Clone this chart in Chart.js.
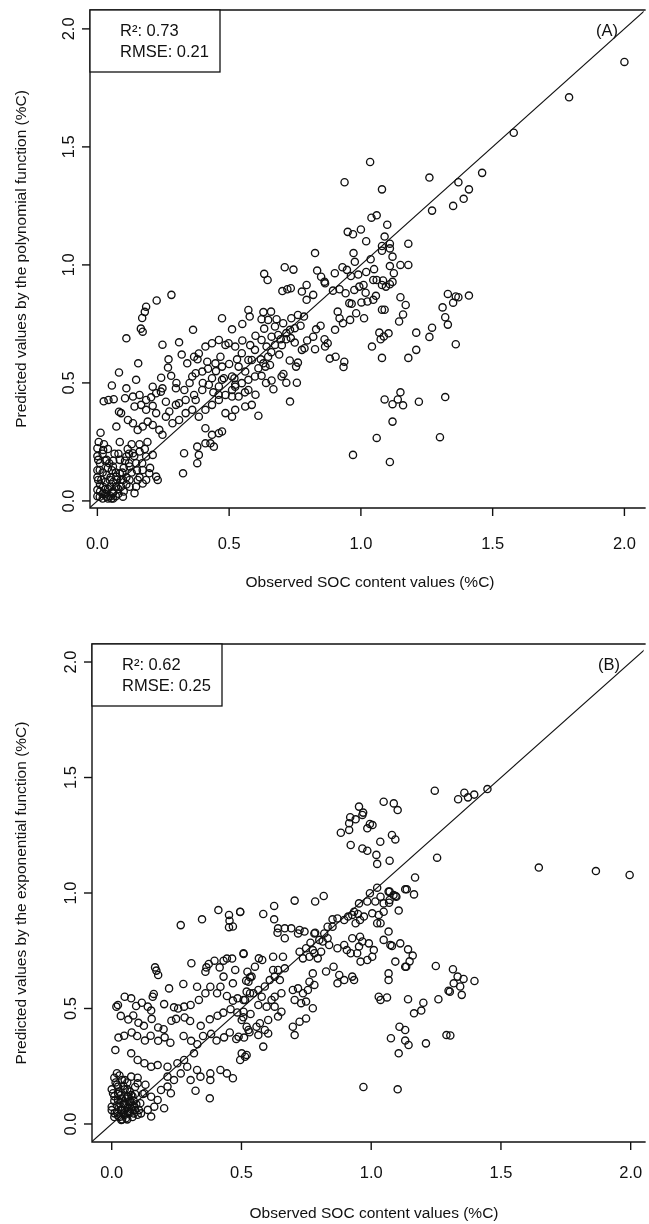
<!DOCTYPE html>
<html>
<head>
<meta charset="utf-8">
<script src="https://cdn.jsdelivr.net/npm/chart.js@4.4.1/dist/chart.umd.min.js"></script>
<style>
  body { margin: 0; background: #fff; width: 649px; height: 1224px; overflow: hidden; }
  .panel { position: absolute; left: 0; width: 649px; height: 612px; }
</style>
</head>
<body>
<div class="panel" style="top:0"><canvas id="chartA" width="649" height="612"></canvas></div>
<div class="panel" style="top:612px"><canvas id="chartB" width="649" height="612"></canvas></div>
<script>
// axis ticks shared by both panels
const tickValues = [0, 0.5, 1, 1.5, 2];
const tickLabels = ['0.0', '0.5', '1.0', '1.5', '2.0'];
// 1:1 reference line (observed = predicted)
const oneToOne = [-0.2, 2.3];

const xTitle = 'Observed SOC content values (%C)';
const yTitleA = 'Predicted values by the polynomial function (%C)';
const yTitleB = 'Predicted values by the exponential function (%C)';
const statsA = ['R²: 0.73', 'RMSE: 0.21'];
const statsB = ['R²: 0.62', 'RMSE: 0.25'];

// (A) observed vs predicted by the polynomial function
const pointsA = [
  [2.0,1.86],[1.79,1.71],[1.58,1.56],[1.035,1.436],[0.938,1.35],
  [1.26,1.37],[1.46,1.39],[1.37,1.35],[1.41,1.32],[1.39,1.28],[1.35,1.25],[1.27,1.23],[1.08,1.32],
  [1.10,1.17],[1.09,1.12],[1.18,1.09],[1.08,1.08],[1.08,1.06],[1.11,1.09],[1.11,1.07],[1.12,1.035],
  [1.11,0.995],[1.15,1.0],[1.18,1.0],[1.06,0.936],[1.08,0.915],[1.095,0.908],[1.11,0.918],[1.12,0.928],
  [1.15,0.863],[1.17,0.83],[1.16,0.79],[1.145,0.76],[1.08,0.81],[1.09,0.81],[1.33,0.877],[1.36,0.866],
  [1.37,0.863],[1.35,0.84],[1.31,0.82],[1.32,0.778],[1.33,0.747],[1.41,0.87],[1.07,0.713],[1.105,0.71],
  [1.21,0.713],[1.27,0.734],[1.26,0.695],[1.36,0.664],[1.21,0.64],[1.18,0.606],[1.08,0.606],
  [1.09,0.43],[1.12,0.41],[1.14,0.43],[1.15,0.46],[1.16,0.405],[1.22,0.42],[1.32,0.44],[1.12,0.336],
  [1.30,0.27],[1.06,0.267],[1.11,0.165],[0.97,0.195],
  [1.06,1.21],[1.04,1.2],[1.0,1.15],[0.97,1.13],[1.02,1.1],[0.95,1.14],
  [0.826,1.05],[0.711,0.99],[0.744,0.98],[0.633,0.962],[0.646,0.936],[0.834,0.976],[0.849,0.95],
  [0.862,0.929],[0.864,0.922],[0.702,0.889],[0.721,0.897],[0.734,0.901],[0.776,0.887],[0.794,0.915],
  [0.819,0.873],[0.794,0.852],[0.894,0.891],[0.919,0.897],[0.942,0.88],
  [0.901,0.965],[0.93,0.99],[0.947,0.979],[0.962,0.953],[0.977,1.013],[0.972,1.05],[0.99,0.959],
  [1.02,0.97],[1.05,0.982],[1.037,1.024],[1.125,0.965],[1.047,0.936],[1.084,0.934],[0.975,0.894],
  [0.994,0.908],[1.01,0.915],[1.018,0.882],
  [0.912,0.802],[0.919,0.774],[0.932,0.753],[0.902,0.725],[0.956,0.838],[0.965,0.835],[0.982,0.795],
  [0.959,0.767],[1.012,0.774],[1.002,0.841],[1.025,0.845],[1.047,0.852],[1.057,0.869],[1.087,0.697],
  [1.075,0.685],[1.042,0.654],
  [0.83,0.727],[0.847,0.742],[0.819,0.696],[0.862,0.685],[0.874,0.668],[0.864,0.654],[0.826,0.643],
  [0.882,0.603],[0.904,0.611],[0.937,0.59],[0.934,0.567],
  [0.731,0.725],[0.749,0.732],[0.771,0.742],[0.734,0.69],[0.749,0.671],[0.776,0.64],[0.786,0.647],
  [0.796,0.68],[0.761,0.586],[0.754,0.569],[0.73,0.595],[0.706,0.538],[0.699,0.527],[0.717,0.501],
  [0.757,0.501],[0.661,0.51],[0.668,0.473],[0.731,0.421],
  [0.573,0.809],[0.578,0.781],[0.511,0.727],[0.623,0.77],[0.633,0.73],[0.648,0.767],[0.659,0.802],
  [0.674,0.739],[0.686,0.703],[0.705,0.753],[0.717,0.711],[0.736,0.774],[0.761,0.788],[0.784,0.781],
  [0.623,0.682],[0.642,0.654],[0.661,0.696],[0.674,0.661],[0.696,0.685],[0.717,0.685],[0.648,0.611],
  [0.63,0.583],[0.598,0.64],[0.573,0.597],[0.548,0.626],[0.523,0.654],[0.498,0.668],[0.536,0.569],
  [0.561,0.548],[0.586,0.597],[0.611,0.562],[0.638,0.569],[0.655,0.576],[0.573,0.513],[0.548,0.499],
  [0.523,0.484],[0.511,0.442],[0.536,0.442],[0.561,0.4],[0.586,0.407],[0.611,0.361],[0.523,0.386],
  [0.511,0.357],[0.573,0.47],[0.598,0.527],[0.623,0.53],
  [0.055,0.489],[0.11,0.477],[0.147,0.513],[0.024,0.422],[0.042,0.428],[0.062,0.431],[0.105,0.435],
  [0.135,0.442],[0.16,0.449],[0.185,0.428],[0.204,0.439],[0.223,0.456],[0.241,0.463],[0.082,0.378],
  [0.09,0.372],[0.141,0.4],[0.166,0.407],[0.185,0.386],[0.21,0.403],[0.223,0.372],[0.012,0.289],
  [0.072,0.315],[0.116,0.343],[0.135,0.329],[0.153,0.301],[0.172,0.315],[0.191,0.336],[0.21,0.322],
  [0.235,0.301],[0.247,0.28],
  [0.26,0.357],[0.285,0.329],[0.31,0.343],[0.335,0.372],[0.36,0.386],[0.385,0.357],[0.41,0.386],
  [0.435,0.407],[0.461,0.428],[0.486,0.449],[0.511,0.47],[0.523,0.492],[0.461,0.485],[0.423,0.492],
  [0.398,0.47],[0.367,0.449],[0.335,0.428],[0.298,0.407],[0.273,0.379],[0.31,0.414],[0.373,0.428],
  [0.486,0.372],
  [0.41,0.308],[0.435,0.28],[0.461,0.287],[0.473,0.294],[0.41,0.244],[0.442,0.23],[0.379,0.23],
  [0.385,0.195],[0.329,0.202],[0.379,0.16],[0.325,0.117],[0.429,0.244],[0.141,0.033],
  [0.0,0.223],[0.022,0.216],[0.003,0.174],[0.009,0.131],[0.003,0.089],[0.0,0.047],[0.009,0.018],
  [0.035,0.018],[0.059,0.032],[0.022,0.06],[0.047,0.089],[0.072,0.06],[0.085,0.117],[0.059,0.146],
  [0.035,0.174],[0.085,0.174],[0.11,0.188],[0.135,0.202],[0.16,0.209],[0.185,0.188],[0.21,0.195],
  [0.122,0.146],[0.147,0.16],[0.172,0.131],[0.197,0.117],[0.223,0.103],[0.229,0.089],[0.185,0.089],
  [0.153,0.089],[0.122,0.089],[0.097,0.089],[0.072,0.103],[0.053,0.01],[0.097,0.018],[0.122,0.06],
  [0.147,0.06],[0.172,0.074],
  [0.281,0.873],[0.225,0.849],[0.185,0.823],[0.18,0.801],[0.17,0.775],[0.165,0.73],[0.172,0.717],
  [0.11,0.689],[0.247,0.662],[0.31,0.672],[0.363,0.725],[0.473,0.774],[0.155,0.583],[0.082,0.544],
  [0.242,0.522],[0.268,0.565],
  [0.341,0.583],[0.367,0.611],[0.385,0.625],[0.41,0.654],[0.435,0.668],[0.461,0.682],[0.486,0.661],
  [0.467,0.611],[0.448,0.583],[0.417,0.59],[0.473,0.569],[0.373,0.541],[0.398,0.548],[0.36,0.527],
  [0.435,0.52],[0.473,0.513],[0.511,0.527],[0.298,0.477],[0.247,0.477],[0.21,0.484],
  [0.0,0.02],[0.01,0.04],[0.02,0.01],[0.03,0.03],[0.04,0.05],[0.05,0.02],[0.06,0.04],[0.07,0.06],
  [0.08,0.03],[0.03,0.08],[0.05,0.1],[0.07,0.12],[0.09,0.09],[0.1,0.14],[0.02,0.12],[0.01,0.16],
  [0.0,0.19],[0.0,0.1],[0.01,0.07],[0.04,0.14],[0.06,0.17],[0.08,0.2],[0.11,0.1],[0.12,0.16],
  [0.13,0.12],[0.02,0.2],[0.0,0.13],[0.005,0.25],[0.04,0.22],[0.06,0.01],[0.09,0.06],[0.1,0.04],
  [0.11,0.07],[0.03,0.17],[0.15,0.13],[0.14,0.19],[0.17,0.16],[0.16,0.1],[0.12,0.2],[0.18,0.22],
  [0.2,0.14],[0.19,0.25],
  [0.02,0.03],[0.04,0.01],[0.05,0.06],[0.07,0.02],[0.03,0.05],[0.06,0.08],[0.08,0.05],[0.015,0.09],
  [0.035,0.11],[0.055,0.13],[0.075,0.09],[0.095,0.12],[0.045,0.16],[0.065,0.2],[0.025,0.24],
  [0.105,0.17],[0.115,0.22],[0.085,0.25],[0.13,0.24],[0.16,0.24],
  [0.3,0.5],[0.33,0.47],[0.28,0.53],[0.35,0.5],[0.4,0.5],[0.42,0.56],[0.45,0.55],[0.38,0.6],
  [0.32,0.62],[0.27,0.6],[0.5,0.58],[0.53,0.6],[0.55,0.68],[0.58,0.66],[0.6,0.7],[0.62,0.6],
  [0.66,0.63],[0.69,0.62],[0.7,0.66],[0.68,0.77],[0.63,0.8],[0.55,0.75],[0.52,0.52],[0.56,0.46],
  [0.6,0.45],[0.64,0.5],[0.48,0.52],[0.46,0.45],[0.44,0.46],[0.26,0.42]
];

// (B) observed vs predicted by the exponential function
const pointsB = [
  [0.411,0.926],[0.348,0.886],[0.266,0.861],[0.452,0.905],[0.454,0.88],[0.452,0.852],[0.467,0.855],
  [0.495,0.918],[0.167,0.678],[0.172,0.664],[0.179,0.645],
  [0.307,0.696],[0.365,0.678],[0.374,0.693],[0.396,0.707],[0.416,0.678],[0.431,0.707],[0.444,0.716],
  [0.464,0.716],[0.508,0.736],[0.476,0.667],[0.523,0.659],[0.533,0.635],[0.518,0.62],[0.431,0.638],
  [0.467,0.609],[0.361,0.659],[0.329,0.594],[0.276,0.606],[0.221,0.587],[0.162,0.563],[0.158,0.551],
  [0.075,0.544],[0.05,0.551],[0.024,0.515],[0.018,0.508],[0.094,0.511],[0.116,0.525],[0.139,0.508],
  [0.152,0.491],[0.202,0.519],[0.24,0.505],[0.256,0.5],[0.279,0.508],[0.304,0.515],[0.336,0.537],
  [0.361,0.566],[0.38,0.594],[0.406,0.566],[0.419,0.594],[0.444,0.554],[0.467,0.534],[0.485,0.544],
  [0.508,0.537],[0.533,0.566],
  [0.035,0.468],[0.064,0.452],[0.083,0.47],[0.103,0.438],[0.124,0.425],[0.154,0.455],[0.179,0.418],
  [0.2,0.41],[0.23,0.447],[0.248,0.455],[0.281,0.461],[0.302,0.446],[0.343,0.425],[0.378,0.453],
  [0.408,0.469],[0.43,0.482],[0.458,0.497],[0.484,0.483],[0.507,0.462],[0.535,0.476],
  [0.026,0.374],[0.014,0.32],[0.048,0.382],[0.077,0.396],[0.098,0.381],[0.128,0.361],[0.15,0.382],
  [0.179,0.36],[0.204,0.375],[0.226,0.352],[0.277,0.381],[0.306,0.36],[0.33,0.345],[0.352,0.381],
  [0.383,0.39],[0.404,0.361],[0.433,0.375],[0.455,0.396],[0.48,0.368],[0.51,0.374],[0.531,0.397],
  [0.075,0.306],[0.1,0.277],[0.126,0.263],[0.152,0.248],[0.177,0.255],[0.215,0.248],[0.253,0.263],
  [0.279,0.277],[0.317,0.306],[0.329,0.234],[0.342,0.205],[0.38,0.219],[0.38,0.19],[0.419,0.234],
  [0.444,0.219],[0.467,0.198],[0.495,0.277],[0.52,0.299],[0.323,0.144],[0.378,0.111],[0.215,0.162],
  [0.19,0.147],[0.177,0.104],[0.202,0.068],[0.152,0.118],[0.126,0.133],[0.1,0.176],[0.075,0.205],
  [0.05,0.19],[0.024,0.162],[0.005,0.133],[0.0,0.075],[0.011,0.046],[0.037,0.061],[0.062,0.046],
  [0.088,0.075],[0.113,0.046],[0.139,0.061],[0.164,0.075],[0.024,0.104],[0.062,0.118],[0.037,0.017],
  [0.152,0.032],[0.215,0.205],[0.24,0.19],[0.266,0.219],[0.291,0.248],[0.304,0.19],[0.228,0.133],
  [0.02,0.05],[0.03,0.03],[0.04,0.06],[0.05,0.04],[0.06,0.07],[0.07,0.05],[0.08,0.03],[0.05,0.09],
  [0.04,0.11],[0.06,0.12],[0.03,0.14],[0.02,0.17],[0.01,0.2],[0.02,0.22],[0.04,0.19],[0.07,0.1],
  [0.08,0.08],[0.09,0.06],[0.1,0.04],[0.05,0.15],[0.06,0.18],[0.03,0.09],[0.01,0.12],[0.0,0.06],
  [0.01,0.03],[0.07,0.14],[0.08,0.12],[0.09,0.16],[0.11,0.09],[0.12,0.13],[0.04,0.02],[0.06,0.02],
  [0.05,0.06],[0.07,0.08],[0.02,0.08],[0.03,0.21],[0.01,0.1],[0.0,0.15],[0.1,0.2],[0.13,0.17],
  [0.025,0.035],[0.045,0.045],[0.055,0.025],[0.065,0.055],[0.075,0.065],[0.085,0.045],[0.035,0.075],
  [0.045,0.085],[0.055,0.11],[0.065,0.095],[0.075,0.125],[0.085,0.1],[0.035,0.125],[0.045,0.165],
  [0.015,0.18],[0.025,0.13],[0.095,0.085],[0.105,0.06],[0.09,0.13],[0.06,0.15],
  [1.048,1.395],[1.087,1.388],[1.102,1.359],
  [0.953,1.374],[0.969,1.348],[0.966,1.338],[0.94,1.319],[0.919,1.328],[0.915,1.302],[0.883,1.261],
  [0.915,1.273],[0.995,1.299],[0.985,1.28],[1.005,1.294],
  [1.08,1.251],[1.093,1.232],[1.035,1.222],[0.921,1.208],[0.966,1.193],[0.985,1.183],[1.02,1.165],
  [1.023,1.126],[1.071,1.14],
  [1.023,1.023],[0.995,0.999],[1.036,0.984],[1.067,1.006],[1.086,0.991],[1.097,0.984],[1.016,0.963],
  [0.985,0.963],[0.953,0.955],[0.934,0.919],[0.949,0.909],[1.048,0.955],[1.071,0.97],[1.048,0.919],
  [1.029,0.905],[1.036,0.869],[1.023,0.869],[1.106,0.924],[1.004,0.912],[0.972,0.898],[0.957,0.883],
  [0.94,0.869],[0.927,0.905],[0.911,0.898],[0.896,0.883],[0.87,0.89],[0.851,0.886],[0.851,0.854],
  [0.832,0.854],[0.819,0.825],[0.813,0.79],[0.8,0.797],[0.781,0.825],[0.766,0.785],[0.775,0.753],
  [0.749,0.761],[0.724,0.746],[0.737,0.717],[0.762,0.724],[0.781,0.739],[0.807,0.746],[0.794,0.717],
  [0.838,0.775],[0.87,0.761],[0.896,0.775],[0.906,0.753],[0.927,0.804],[0.957,0.811],[0.966,0.79],
  [0.953,0.768],[0.946,0.739],[0.921,0.739],[0.991,0.782],[1.01,0.753],[1.004,0.724],[0.985,0.71],
  [0.959,0.703],[1.048,0.797],[1.074,0.775],[1.067,0.833],[1.112,0.782],[1.131,1.016],[1.131,0.681],
  [1.093,0.703],[1.067,0.652],[1.067,0.623],[0.927,0.638],[0.934,0.623],[0.896,0.623],[0.877,0.645],
  [0.87,0.609],[0.855,0.681],[0.826,0.66],[0.775,0.652],[0.762,0.616],[0.781,0.602],[0.756,0.58],
  [0.737,0.566],[0.718,0.587],[0.698,0.58],[0.705,0.537],[0.73,0.523],[0.749,0.53],[0.775,0.501],
  [0.749,0.457],[0.724,0.443],[0.698,0.421],[0.705,0.385],[0.66,0.724],[0.667,0.674],[0.641,0.667],
  [0.622,0.724],[0.58,0.71],[0.567,0.717],[0.552,0.681],[0.539,0.638],[0.527,0.616],[0.52,0.573],
  [0.514,0.537],[0.546,0.566],[0.565,0.58],[0.59,0.595],[0.609,0.623],[0.628,0.638],[0.648,0.623],
  [0.622,0.667],[0.654,0.566],[0.628,0.551],[0.616,0.537],[0.578,0.551],[0.565,0.515],[0.597,0.508],
  [0.628,0.508],[0.654,0.486],[0.641,0.465],[0.603,0.45],[0.571,0.436],[0.558,0.421],[0.59,0.407],
  [0.565,0.385],[0.603,0.392],[0.584,0.335],[0.508,0.486],[0.501,0.45],[0.52,0.421],[0.527,0.407],
  [0.489,0.378],[0.501,0.306],[0.514,0.291],[0.508,0.739],[0.495,0.919],[0.584,0.909],[0.626,0.944],
  [0.626,0.886],[0.641,0.847],[0.639,0.828],[0.667,0.847],[0.692,0.847],[0.705,0.967],[0.724,0.84],
  [0.718,0.825],[0.743,0.833],[0.784,0.963],[0.817,0.987],[0.784,0.828],[0.832,0.804],[0.667,0.804],
  [1.029,0.551],[1.061,0.548],[1.109,0.421],[1.076,0.371],[1.106,0.306],[1.131,0.407],[1.036,0.537],
  [1.245,1.443],[1.335,1.406],[1.359,1.434],[1.373,1.414],[1.397,1.426],[1.448,1.45],
  [1.254,1.153],[1.646,1.11],[1.866,1.095],[1.996,1.078],[1.169,1.067],[1.137,1.016],[1.165,0.994],
  [1.071,1.006],[1.094,0.987],[1.069,0.958],[1.08,0.771],[1.142,0.756],[1.16,0.729],[1.148,0.704],
  [1.135,0.681],[1.249,0.684],[1.315,0.67],[1.333,0.638],[1.356,0.628],[1.318,0.609],[1.343,0.595],
  [1.298,0.577],[1.303,0.573],[1.349,0.559],[1.398,0.619],[1.142,0.54],[1.201,0.525],[1.193,0.491],
  [1.165,0.479],[1.259,0.54],[1.131,0.361],[1.144,0.342],[1.211,0.349],[1.29,0.385],[1.305,0.383],
  [1.102,0.15],[0.97,0.16]
];

const FONT = '"Liberation Sans", Arial, Helvetica, sans-serif';

// R-style frame: box, outward ticks, rotated y labels, stats box and panel tag
const rFrame = {
  id: 'rFrame',
  afterDatasetsDraw(chart, args, o) {
    const { ctx, chartArea: a, scales: { x, y } } = chart;
    ctx.save();
    ctx.strokeStyle = '#111';
    ctx.fillStyle = '#111';
    ctx.lineWidth = 1.4;

    // plot box (right side runs off the cropped figure)
    ctx.beginPath();
    ctx.moveTo(a.right + 2, a.top);
    ctx.lineTo(a.left, a.top);
    ctx.lineTo(a.left, a.bottom);
    ctx.lineTo(a.right + 2, a.bottom);
    ctx.stroke();

    ctx.font = '16.5px ' + FONT;
    ctx.textAlign = 'center';
    ctx.textBaseline = 'middle';
    tickValues.forEach((t, i) => {
      const px = x.getPixelForValue(t);
      ctx.beginPath();
      ctx.moveTo(px, a.bottom);
      ctx.lineTo(px, a.bottom + 8);
      ctx.stroke();
      ctx.fillText(tickLabels[i], px, a.bottom + o.xLabelGap);

      const py = y.getPixelForValue(t);
      ctx.beginPath();
      ctx.moveTo(a.left, py);
      ctx.lineTo(a.left - 8, py);
      ctx.stroke();
      ctx.save();
      ctx.translate(o.yLabelX, py);
      ctx.rotate(-Math.PI / 2);
      ctx.fillText(tickLabels[i], 0, 0);
      ctx.restore();
    });

    // axis titles
    ctx.font = '15.5px ' + FONT;
    ctx.fillText(xTitle, o.xTitleX, a.bottom + o.xTitleGap);
    ctx.save();
    ctx.translate(22, (a.top + a.bottom) / 2);
    ctx.rotate(-Math.PI / 2);
    ctx.fillText(o.yTitle, 0, 0);
    ctx.restore();

    // stats box in the top-left corner
    ctx.lineWidth = 1.3;
    ctx.fillStyle = '#fff';
    ctx.fillRect(a.left, a.top, o.boxW, o.boxH);
    ctx.strokeRect(a.left, a.top, o.boxW, o.boxH);
    ctx.fillStyle = '#111';
    ctx.font = '16.5px ' + FONT;
    ctx.textAlign = 'left';
    o.stats.forEach((s, i) => ctx.fillText(s, a.left + 30, a.top + 21 + i * 21));

    // panel tag
    ctx.textAlign = 'center';
    ctx.fillText(o.tag, o.tagX, a.top + 21);
    ctx.restore();
  }
};

function makePanel(id, points, cfg) {
  return new Chart(document.getElementById(id), {
    type: 'scatter',
    data: {
      datasets: [{
        data: points.map(p => ({ x: p[0], y: p[1] })),
        pointStyle: 'circle',
        pointRadius: 3.6,
        pointBorderWidth: 1.35,
        pointBorderColor: '#111',
        pointBackgroundColor: 'rgba(0,0,0,0)'
      }, {
        data: oneToOne.map(v => ({ x: v, y: v })),
        showLine: true,
        borderColor: '#111',
        borderWidth: 1.1,
        pointRadius: 0
      }]
    },
    options: {
      responsive: false,
      animation: false,
      devicePixelRatio: 1,
      layout: { padding: cfg.pad },
      plugins: { legend: { display: false }, tooltip: { enabled: false }, rFrame: cfg },
      scales: {
        x: { type: 'linear', min: cfg.xMin, max: cfg.xMax, display: false },
        y: { type: 'linear', min: cfg.yMin, max: cfg.yMax, display: false }
      }
    },
    plugins: [rFrame]
  });
}

document.addEventListener('DOMContentLoaded', () => {
  makePanel('chartA', pointsA, {
    pad: { left: 90, top: 10, right: 0, bottom: 104 },
    xMin: -0.028, xMax: 2.073, yMin: -0.03, yMax: 2.08,
    xLabelGap: 36, xTitleGap: 75, xTitleX: 370, yLabelX: 69,
    yTitle: yTitleA, stats: statsA, tag: '(A)', tagX: 607,
    boxW: 130, boxH: 62
  });
  makePanel('chartB', pointsB, {
    pad: { left: 92, top: 32, right: 0, bottom: 82 },
    xMin: -0.076, xMax: 2.05, yMin: -0.078, yMax: 2.078,
    xLabelGap: 31, xTitleGap: 72, xTitleX: 374, yLabelX: 71,
    yTitle: yTitleB, stats: statsB, tag: '(B)', tagX: 609,
    boxW: 130, boxH: 62
  });
});
</script>
</body>
</html>
